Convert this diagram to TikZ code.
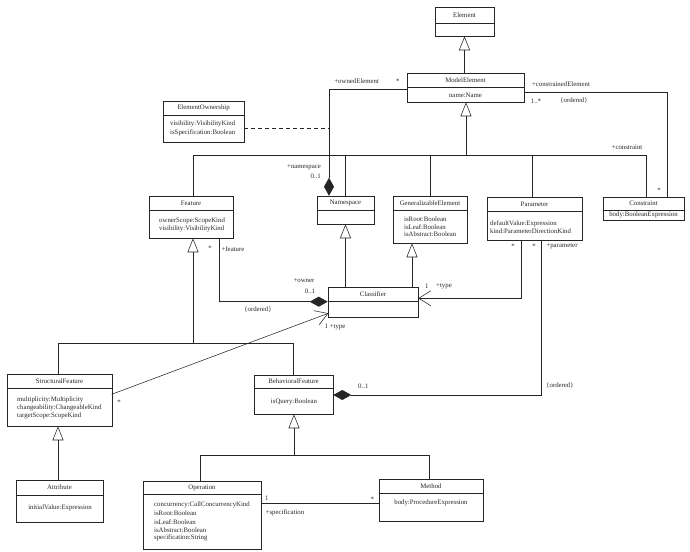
\documentclass[tikz,border=0pt]{standalone}
\usepackage{fontspec}
\setmainfont{Liberation Serif}
\usetikzlibrary{arrows.meta,fit}
\newcommand\umlbox[7]{%
  \node[cls, fit={(#2,#3)(#4,#6)}] (#1) {};
  \draw[line] (#2,#5) -- (#4,#5);
  \node[lbl] (#1-t) at ({(#2+#4)/2},{(#3+#5)/2}) {#7};
}
\begin{document}
\begin{tikzpicture}[x=1pt,y=-1pt,
  line/.style={draw=black!85, line width=0.55pt},
  cls/.style={line, inner sep=0pt},
  lbl/.style={inner sep=0pt, font=\fontsize{6.8}{7.6}\selectfont, text=black!85},
  gen/.style={line, -{Triangle[open, length=14pt, width=11pt]}},
  comp/.style={line, {Diamond[length=18pt, width=10pt]}-},
  nav/.style={line, -{Straight Barb[length=12pt, width=15pt]}},
  assoc/.style={line},
  dep/.style={line, dash pattern=on 4pt off 3pt}
  ]
\useasboundingbox (0,0) rectangle (690,551);

% ---- classes
\umlbox{el}{435}{7}{494}{23}{36}{Element}
\umlbox{me}{407}{73}{524}{87}{102}{ModelElement}
\node[lbl] (me-a) at (465.5,95) {name:Name};

\umlbox{eo}{163}{101}{244}{115}{142}{ElementOwnership}
\node[lbl,anchor=west] (eo-a1) at (170,124) {visibility:VisibilityKind};
\node[lbl,anchor=west] (eo-a2) at (170,132.5) {isSpecification:Boolean};

\umlbox{ft}{149}{196}{233}{210.5}{238}{Feature}
\node[lbl,anchor=west] (ft-a1) at (159,220.5) {ownerScope:ScopeKind};
\node[lbl,anchor=west] (ft-a2) at (159,228.5) {visibility:VisibilityKind};

\umlbox{ns}{317}{196}{374}{210}{224}{Namespace}

\umlbox{ge}{393}{196}{467}{210}{243}{GeneralizableElement}
\node[lbl,anchor=west] (ge-a1) at (404,219.5) {isRoot:Boolean};
\node[lbl,anchor=west] (ge-a2) at (404,227) {isLeaf:Boolean};
\node[lbl,anchor=west] (ge-a3) at (404,234.5) {isAbstract:Boolean};

\umlbox{pa}{487}{197}{582}{211}{240}{Parameter}
\node[lbl,anchor=west] (pa-a1) at (490,224) {defaultValue:Expression};
\node[lbl,anchor=west] (pa-a2) at (490,231.5) {kind:ParameterDirectionKind};

\umlbox{co}{603}{197}{684}{210}{220}{Constraint}
\node[lbl] (co-a) at (643.5,215) {body:BooleanExpression};

\umlbox{cl}{328}{287}{418}{301.7}{317}{Classifier}

\umlbox{sf}{7}{374}{112}{388}{426}{StructuralFeature}
\node[lbl,anchor=west] (sf-a1) at (17,400) {multiplicity:Multiplicity};
\node[lbl,anchor=west] (sf-a2) at (17,408) {changeability:ChangeableKind};
\node[lbl,anchor=west] (sf-a3) at (17,416) {targetScope:ScopeKind};

\umlbox{bf}{254}{375}{333}{388}{414}{BehavioralFeature}
\node[lbl] (bf-a) at (294,401.5) {isQuery:Boolean};

\umlbox{at}{16}{480}{103}{495}{522}{Attribute}
\node[lbl] (at-a) at (60,508) {initialValue:Expression};

\umlbox{op}{143}{481}{261}{494}{549}{Operation}
\node[lbl,anchor=west] (op-a1) at (154,505) {concurrency:CallConcurrencyKind};
\node[lbl,anchor=west] (op-a2) at (154,513.3) {isRoot:Boolean};
\node[lbl,anchor=west] (op-a3) at (154,521.7) {isLeaf:Boolean};
\node[lbl,anchor=west] (op-a4) at (154,530) {isAbstract:Boolean};
\node[lbl,anchor=west] (op-a5) at (154,538) {specification:String};

\umlbox{mt}{379}{479}{483}{493}{521}{Method}
\node[lbl] (mt-a) at (431,503) {body:ProcedureExpression};

% ---- generalizations
\draw[gen] (me.north -| el.south) -- (el.south);

\coordinate (busA) at (466,155);
\coordinate (busAl) at (193,155);
\coordinate (busAr) at (646,155);
\draw[gen] (busA) -- (busA |- me.south);
\draw[line] (busAl) -- (busAr);
\draw[line] (busAl) -- (busAl |- ft.north);
\draw[line] (busAl -| ns.north) -- (ns.north);
\draw[line] (busAl -| ge.north) -- (ge.north);
\coordinate (busPa) at (532,155);
\draw[line] (busPa) -- (busPa |- pa.north);
\draw[line] (busAr) -- (busAr |- co.north);

\coordinate (busB) at (193,343);
\coordinate (busBl) at (58,343);
\coordinate (busBr) at (293,343);
\draw[gen] (busB) -- (busB |- ft.south);
\draw[line] (busBl) -- (busBr);
\draw[line] (busBl) -- (busBl |- sf.north);
\draw[line] (busBr) -- (busBr |- bf.north);

\coordinate (gAt) at (58,480);
\draw[gen] (gAt) -- (gAt |- sf.south);

\coordinate (busC) at (294,455);
\coordinate (busCl) at (200,455);
\coordinate (busCr) at (429,455);
\draw[gen] (busC) -- (busC |- bf.south);
\draw[line] (busCl) -- (busCr);
\draw[line] (busCl) -- (busCl |- op.north);
\draw[line] (busCr) -- (busCr |- mt.north);

\coordinate (gNs) at (345.5,287);
\draw[gen] (gNs) -- (gNs |- ns.south);
\coordinate (gGe) at (412,287);
\draw[gen] (gGe) -- (gGe |- ge.south);

% ---- associations
\coordinate (own) at (329,89.3);
\draw[comp] (own |- ns.north) -- (own) -- (own -| me.west);
\coordinate (eoD) at (329,128.3);
\draw[dep] (eoD -| eo.east) -- (eoD);

\coordinate (ce) at (667,92.3);
\draw[assoc] (ce -| me.east) -- (ce) -- (ce |- co.north);

\coordinate (fA) at (219,301.7);
\draw[comp] (fA -| cl.west) -- (fA) -- (fA |- ft.south);

\coordinate (pT) at (521,298.3);
\draw[nav] (pT |- pa.south) -- (pT) -- (pT -| cl.east);

\coordinate (pB) at (541,395);
\draw[comp] (pB -| bf.east) -- (pB) -- (pB |- pa.south);

\coordinate (sfA) at (111.7,394.3);
\coordinate (clA) at (328.3,313.3);
\draw[nav] (sfA) -- (clA);

\coordinate (om) at (261,503.3);
\draw[assoc] (om) -- (om -| mt.west);

% ---- labels
\node[lbl] (l1) at (356.7,80.7) {+ownedElement};
\node[lbl] (l2) at (397.7,81.5) {*};
\node[lbl] (l3) at (561,84) {+constrainedElement};
\node[lbl] (l4) at (536,101) {1..*};
\node[lbl] (l5) at (574,101) {\{ordered\}};
\node[lbl] (l6) at (304,167) {+namespace};
\node[lbl] (l7) at (315.7,176) {0..1};
\node[lbl] (l8) at (627,147) {+constraint};
\node[lbl] (l9) at (659,190) {*};
\node[lbl] (l10) at (210,248) {*};
\node[lbl] (l11) at (233,249) {+feature};
\node[lbl] (l12) at (304,281) {+owner};
\node[lbl] (l13) at (310,291) {0..1};
\node[lbl] (l14) at (258,309.3) {\{ordered\}};
\node[lbl] (l15) at (426.7,286) {1};
\node[lbl] (l16) at (444,286) {+type};
\node[lbl] (l17) at (335,326.7) {1 +type};
\node[lbl] (l18) at (513,246) {*};
\node[lbl] (l19) at (534,246) {*};
\node[lbl] (l20) at (562,246) {+parameter};
\node[lbl] (l21) at (119,402.5) {*};
\node[lbl] (l22) at (363.3,386.7) {0..1};
\node[lbl] (l23) at (560,386) {\{ordered\}};
\node[lbl] (l24) at (266.7,498.3) {1};
\node[lbl] (l25) at (372.3,499) {*};
\node[lbl] (l26) at (285,513.3) {+specification};
\end{tikzpicture}
\end{document}
